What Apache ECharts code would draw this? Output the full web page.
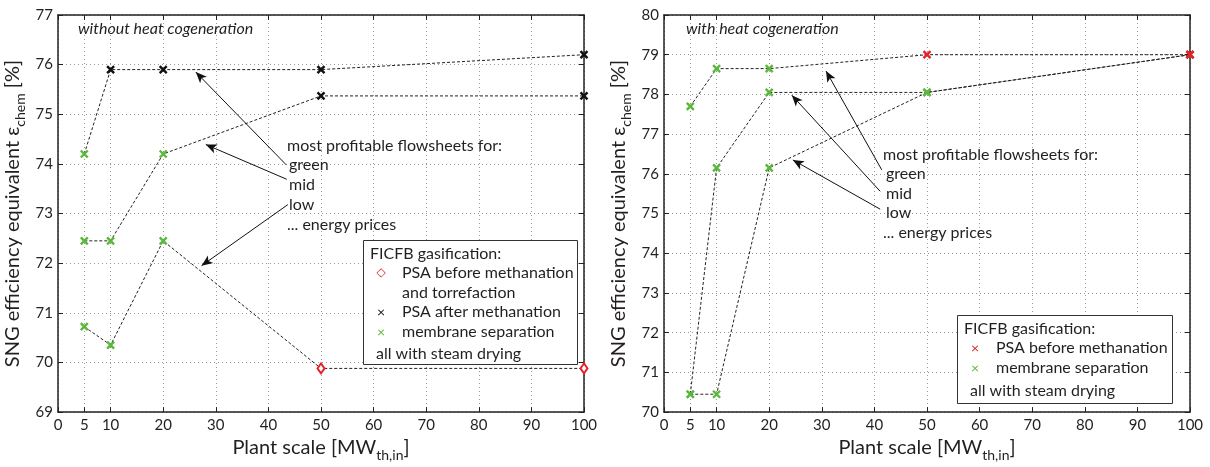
<!DOCTYPE html>
<html><head><meta charset="utf-8">
<script src="https://cdn.jsdelivr.net/npm/echarts@6/dist/echarts.min.js"></script>
<style>html,body{margin:0;padding:0;background:#fff}#c{width:1210px;height:467px}</style>
</head><body><div id="c"></div>
<script>
// ---- data ----
const plantScale = [5, 10, 20, 50, 100];
const xTickValues = [0, 5, 10, 20, 30, 40, 50, 60, 70, 80, 90, 100];

// left panel: without heat cogeneration
const leftGreenPrices = [74.2, 75.9, 75.9, 75.9, 76.2];
const leftGreenTypes  = ['mem', 'psaA', 'psaA', 'psaA', 'psaA'];
const leftMidPrices   = [72.45, 72.45, 74.2, 75.37, 75.37];
const leftMidTypes    = ['mem', 'mem', 'mem', 'psaA', 'psaA'];
const leftLowPrices   = [70.72, 70.35, 72.45, 69.88, 69.88];
const leftLowTypes    = ['mem', 'mem', 'mem', 'psaB', 'psaB'];

// right panel: with heat cogeneration
const rightGreenPrices = [77.7, 78.65, 78.65, 79.0, 79.0];
const rightGreenTypes  = ['mem', 'mem', 'mem', 'psaBx', 'psaBx'];
const rightMidPrices   = [70.45, 76.15, 78.05, 78.05, 79.0];
const rightMidTypes    = ['mem', 'mem', 'mem', 'mem', 'psaBx'];
const rightLowPrices   = [70.45, 70.45, 76.15, 78.05, 79.0];
const rightLowTypes    = ['mem', 'mem', 'mem', 'mem', 'psaBx'];

// annotation arrows (data coords: [from label] -> [tip])
const leftArrows = [
  [[43.4, 73.98], [26.2, 75.85]],
  [[43.5, 73.69], [28.1, 74.39]],
  [[43.7, 73.18], [27.3, 71.95]]
];
const rightArrows = [
  [[41.4, 76.1], [30.8, 78.59]],
  [[41.1, 75.56], [24.3, 77.98]],
  [[41.1, 75.11], [24.5, 76.35]]
];

// ---- styles ----
const FONT = 'Lato, "Noto Sans", sans-serif';
const TXT = '#231f20';
const GREEN = '#5cb83c', RED = '#e3222a', BLACK = '#111';
const X_PATH = 'path://M0,0L10,10M10,0L0,10';
const markerStyles = {
  mem:  { symbol: X_PATH, symbolSize: 7, itemStyle: { color: GREEN, borderColor: GREEN, borderWidth: 2.4 } },
  psaA: { symbol: X_PATH, symbolSize: 7, itemStyle: { color: BLACK, borderColor: BLACK, borderWidth: 2.4 } },
  psaBx:{ symbol: X_PATH, symbolSize: 7, itemStyle: { color: RED, borderColor: RED, borderWidth: 2.4 } },
  psaB: { symbol: 'diamond', symbolSize: [7, 10], itemStyle: { color: '#fff', borderColor: RED, borderWidth: 2 } }
};

function mkSeries(xi, yi, vals, types, arrows) {
  const s = {
    type: 'line', xAxisIndex: xi, yAxisIndex: yi, silent: true, showAllSymbol: true,
    lineStyle: { color: '#222', width: 1, type: [3, 2] },
    emphasis: { disabled: true },
    data: plantScale.map((x, i) => Object.assign({ value: [x, vals[i]] }, markerStyles[types[i]])),
    z: 3
  };
  if (arrows) {
    s.markLine = {
      silent: true, symbol: ['none', 'arrow'], symbolSize: [7, 11], precision: 4,
      lineStyle: { color: '#111', width: 1, type: 'solid' }, label: { show: false },
      emphasis: { disabled: true },
      data: arrows.map(a => [{ coord: a[0] }, { coord: a[1] }])
    };
  }
  return s;
}

const axisLineStyle = { show: true, onZero: false, lineStyle: { color: '#222', width: 1.5 } };
const splitStyle = { show: true, lineStyle: { color: '#9a9a9a', type: [1, 3], width: 1 } };
const nameRich = {
  a: { fontSize: 20, fontFamily: FONT, color: TXT, lineHeight: 28, verticalAlign: 'middle' },
  s: { fontSize: 14, fontFamily: FONT, color: TXT, lineHeight: 14, verticalAlign: 'bottom' }
};

function xAxes(grid) {
  const common = {
    type: 'value', gridIndex: grid, min: 0, max: 100, interval: 10,
    axisLine: axisLineStyle,
    axisTick: { show: true, inside: true, length: 5, customValues: xTickValues, lineStyle: { color: '#222' } }
  };
  return [
    Object.assign({}, common, {
      position: 'bottom', splitLine: splitStyle,
      axisLabel: { customValues: xTickValues, fontSize: 15, color: TXT, fontFamily: FONT, margin: 6 },
      name: '{a|Plant scale [MW}{s|th,in}{a|]}', nameLocation: 'middle', nameGap: 17,
      nameTextStyle: { rich: nameRich }
    }),
    Object.assign({}, common, { position: 'top', splitLine: { show: false }, axisLabel: { show: false } })
  ];
}
function yAxes(grid, min, max) {
  const common = {
    type: 'value', gridIndex: grid, min: min, max: max, interval: 1,
    axisLine: axisLineStyle,
    axisTick: { show: true, inside: true, length: 5, lineStyle: { color: '#222' } }
  };
  return [
    Object.assign({}, common, {
      position: 'left', splitLine: splitStyle,
      axisLabel: { fontSize: 15, color: TXT, fontFamily: FONT, margin: 5 },
      name: '{a|SNG efficiency equivalent ε}{s|chem}{a| [%]}', nameLocation: 'middle', nameGap: 31, nameRotate: 90,
      nameTextStyle: { rich: nameRich }
    }),
    Object.assign({}, common, { position: 'right', splitLine: { show: false }, axisLabel: { show: false } })
  ];
}

function txt(x, y, text, opts) {
  return Object.assign({
    type: 'text', z: 100, silent: true,
    style: Object.assign({ text: text, x: x, y: y, font: '16px ' + FONT, fill: TXT,
      textVerticalAlign: 'middle', verticalAlign: 'middle', textAlign: 'left', align: 'left' }, opts || {})
  });
}
function box(x, y, w, h) {
  return { type: 'rect', z: 99, silent: true, shape: { x: x, y: y, width: w, height: h },
    style: { fill: '#fff', stroke: '#333', lineWidth: 1 } };
}

const graphic = [
  txt(78, 29, 'without heat cogeneration', { font: 'italic 16px ' + FONT }),
  txt(686, 29, 'with heat cogeneration', { font: 'italic 16px ' + FONT }),
  // left annotations
  txt(287, 146, 'most profitable flowsheets for:'),
  txt(289, 165, 'green'), txt(289, 185, 'mid'), txt(289, 205, 'low'),
  txt(287, 225, '... energy prices'),
  // right annotations
  txt(883, 155, 'most profitable flowsheets for:'),
  txt(886, 174, 'green'), txt(886, 194, 'mid'), txt(886, 213, 'low'),
  txt(883, 233, '... energy prices'),
  // left legend
  box(363.5, 240.5, 214, 124),
  txt(370, 254, 'FICFB gasification:'),
  txt(381, 273, '◇', { fill: RED, font: '12px "DejaVu Sans"', textAlign: 'center', align: 'center' }),
  txt(402, 273, 'PSA before methanation'),
  txt(402, 293, 'and torrefaction'),
  txt(381, 312, '×', { fill: BLACK, font: '14px ' + FONT, textAlign: 'center', align: 'center' }),
  txt(402, 312, 'PSA after methanation'),
  txt(381, 332, '×', { fill: GREEN, font: '14px ' + FONT, textAlign: 'center', align: 'center' }),
  txt(402, 332, 'membrane separation'),
  txt(376, 354, 'all with steam drying'),
  // right legend
  box(957.5, 315.5, 215, 88),
  txt(964, 329, 'FICFB gasification:'),
  txt(975, 348, '×', { fill: RED, font: '14px ' + FONT, textAlign: 'center', align: 'center' }),
  txt(996, 348, 'PSA before methanation'),
  txt(975, 368, '×', { fill: GREEN, font: '14px ' + FONT, textAlign: 'center', align: 'center' }),
  txt(996, 368, 'membrane separation'),
  txt(970, 391, 'all with steam drying')
];

const option = {
  animation: false,
  backgroundColor: '#fff',
  textStyle: { fontFamily: FONT },
  grid: [
    { left: 58, right: 626, top: 15, bottom: 47, containLabel: false },
    { left: 664, right: 20, top: 15, bottom: 47, containLabel: false }
  ],
  xAxis: xAxes(0).concat(xAxes(1)),
  yAxis: yAxes(0, 69, 77).concat(yAxes(1, 70, 80)),
  series: [
    mkSeries(0, 0, leftGreenPrices, leftGreenTypes, leftArrows),
    mkSeries(0, 0, leftMidPrices, leftMidTypes),
    mkSeries(0, 0, leftLowPrices, leftLowTypes),
    mkSeries(2, 2, rightGreenPrices, rightGreenTypes, rightArrows),
    mkSeries(2, 2, rightMidPrices, rightMidTypes),
    mkSeries(2, 2, rightLowPrices, rightLowTypes)
  ],
  graphic: graphic
};
echarts.init(document.getElementById('c'), null, { renderer: 'canvas' }).setOption(option);
</script>
</body></html>
